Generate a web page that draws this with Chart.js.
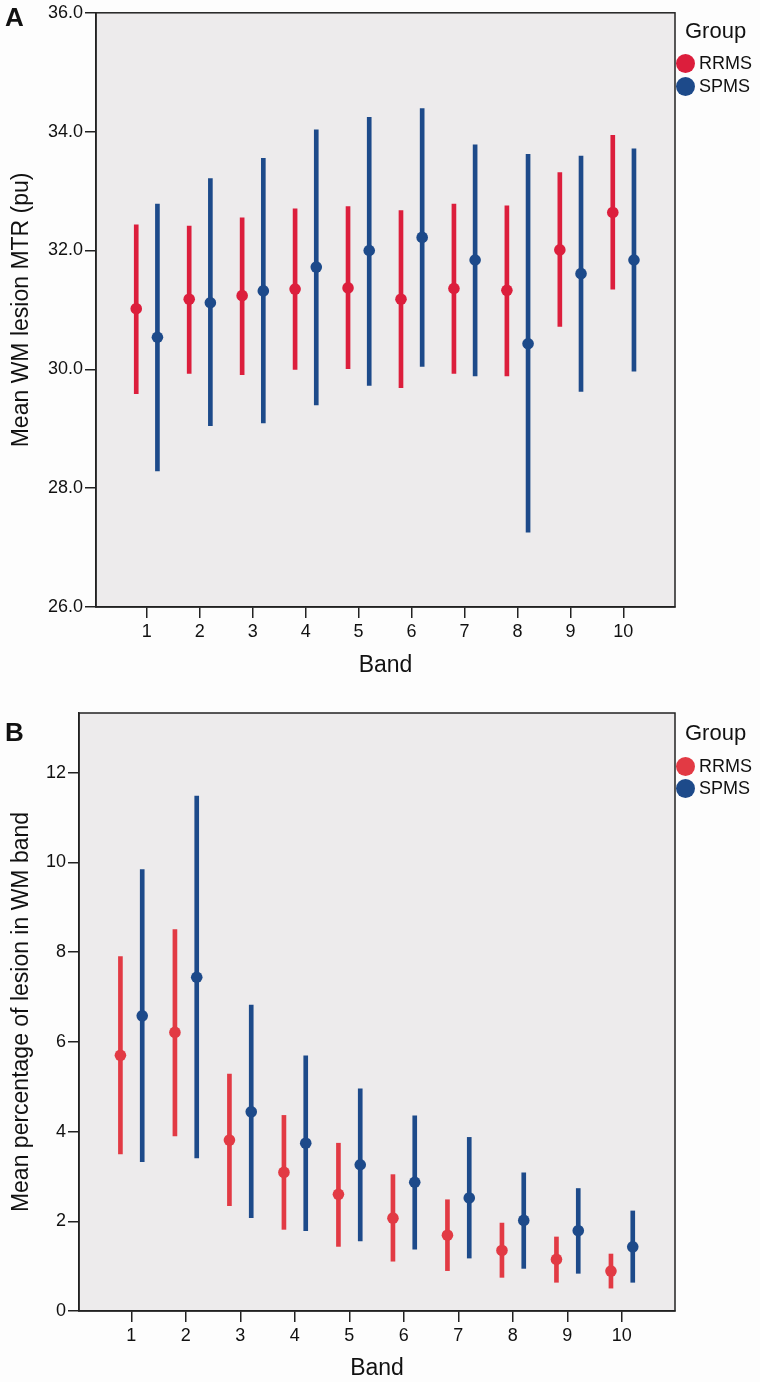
<!DOCTYPE html>
<html>
<head>
<meta charset="utf-8">
<script src="https://cdn.jsdelivr.net/npm/chart.js@4.4.1/dist/chart.umd.min.js"></script>
<style>
  html, body { margin: 0; padding: 0; background: #fdfdfd; overflow: hidden; }
  body { width: 760px; height: 1382px; position: relative; font-family: "Liberation Sans", Arial, sans-serif; color: #111; }
  canvas { position: absolute; left: 0; }
  .letter { position: absolute; left: 5px; font-weight: bold; font-size: 26px; line-height: 26px; }
  .group { position: absolute; left: 685px; font-size: 22px; line-height: 22px; }
  .row { position: absolute; left: 676px; display: flex; align-items: center; height: 22px; font-size: 18px; line-height: 18px; }
  .dot { width: 19px; height: 19px; border-radius: 50%; margin-right: 4px; }
</style>
</head>
<body>
<canvas id="mtrChart" width="760" height="690" style="top:0"></canvas>
<canvas id="pctChart" width="760" height="700" style="top:690px"></canvas>

<div class="letter" style="top:4px">A</div>
<div class="group" style="top:20px">Group</div>
<div class="row" style="top:52px"><span class="dot" style="background:#dc1e3c"></span>RRMS</div>
<div class="row" style="top:75px"><span class="dot" style="background:#1d4a8a"></span>SPMS</div>

<div class="letter" style="top:719px">B</div>
<div class="group" style="top:722px">Group</div>
<div class="row" style="top:755px"><span class="dot" style="background:#e23a44"></span>RRMS</div>
<div class="row" style="top:777px"><span class="dot" style="background:#1d4a8a"></span>SPMS</div>

<script>
const bands = [1, 2, 3, 4, 5, 6, 7, 8, 9, 10];
const groupShift = 0.2; // RRMS sits left of the band, SPMS right

// Panel A: mean WM lesion MTR (pu), with error bar ends
const mtrRrmsMean = [31.02, 31.18, 31.24, 31.35, 31.37, 31.18, 31.36, 31.33, 32.01, 32.64];
const mtrRrmsLow  = [29.59, 29.93, 29.91, 30.00, 30.01, 29.69, 29.93, 29.89, 30.72, 31.35];
const mtrRrmsHigh = [32.43, 32.41, 32.55, 32.70, 32.74, 32.67, 32.78, 32.75, 33.31, 33.94];
const mtrSpmsMean = [30.54, 31.12, 31.32, 31.72, 32.00, 32.22, 31.84, 30.43, 31.61, 31.84];
const mtrSpmsLow  = [28.29, 29.05, 29.10, 29.40, 29.73, 30.05, 29.89, 27.26, 29.63, 29.97];
const mtrSpmsHigh = [32.78, 33.21, 33.55, 34.03, 34.24, 34.39, 33.78, 33.62, 33.59, 33.71];
const mtrTicks = [26, 28, 30, 32, 34, 36];

// Panel B: mean percentage of lesion in WM band
const pctRrmsMean = [5.70, 6.21, 3.81, 3.09, 2.60, 2.07, 1.69, 1.35, 1.15, 0.89];
const pctRrmsLow  = [3.50, 3.90, 2.35, 1.82, 1.44, 1.11, 0.90, 0.75, 0.64, 0.51];
const pctRrmsHigh = [7.90, 8.50, 5.28, 4.36, 3.74, 3.04, 2.48, 1.96, 1.65, 1.27];
const pctSpmsMean = [6.58, 7.44, 4.44, 3.74, 3.26, 2.87, 2.52, 2.02, 1.79, 1.43];
const pctSpmsLow  = [3.33, 3.41, 2.08, 1.79, 1.56, 1.38, 1.18, 0.95, 0.84, 0.64];
const pctSpmsHigh = [9.84, 11.48, 6.82, 5.69, 4.95, 4.35, 3.87, 3.08, 2.73, 2.23];
const pctTicks = [0, 2, 4, 6, 8, 10, 12];

Chart.defaults.font.family = '"Liberation Sans", Arial, sans-serif';
Chart.defaults.color = '#111';

// grey plot area with a full black frame
const plotFrame = {
    id: 'plotFrame',
    beforeDraw(chart) {
        const { ctx, chartArea: a } = chart;
        ctx.save();
        ctx.fillStyle = '#edebec';
        ctx.fillRect(a.left, a.top, a.width, a.height);
        ctx.restore();
    },
    afterDraw(chart) {
        const { ctx, chartArea: a } = chart;
        ctx.save();
        ctx.strokeStyle = '#222';
        ctx.lineWidth = 1.5;
        ctx.strokeRect(a.left, a.top, a.width, a.height);
        ctx.restore();
    }
};

const points = (means, shift) => bands.map((b, i) => ({ x: b + shift, y: means[i] }));
const ranges = (low, high, shift) => bands.map((b, i) => ({ x: b + shift, y: [low[i], high[i]] }));

function drawPanel(id, p) {
    const tickLine = { drawOnChartArea: false, drawTicks: true, tickLength: 11, color: '#222', lineWidth: 1.5, offset: false };
    const axisLine = { display: true, color: '#222', width: 1.5 };
    new Chart(document.getElementById(id), {
        type: 'bar',
        data: {
            datasets: [
                { type: 'scatter', data: points(p.rrms[0], -groupShift), backgroundColor: p.red, borderWidth: 0, pointRadius: 5.8, order: 0 },
                { type: 'scatter', data: points(p.spms[0], groupShift), backgroundColor: p.blue, borderWidth: 0, pointRadius: 5.8, order: 0 },
                { type: 'bar', data: ranges(p.rrms[1], p.rrms[2], -groupShift), backgroundColor: p.red, barThickness: 4, grouped: false, order: 1 },
                { type: 'bar', data: ranges(p.spms[1], p.spms[2], groupShift), backgroundColor: p.blue, barThickness: 4, grouped: false, order: 1 }
            ]
        },
        options: {
            responsive: false,
            animation: false,
            devicePixelRatio: 1,
            events: [],
            layout: { padding: p.padding },
            plugins: { legend: { display: false }, tooltip: { enabled: false } },
            scales: {
                x: {
                    type: 'linear',
                    min: 0.04,
                    max: 10.975,
                    offset: false,
                    afterBuildTicks: s => { s.ticks = bands.map(v => ({ value: v })); },
                    afterFit: s => { s.height = p.xHeight; },
                    grid: tickLine,
                    border: axisLine,
                    ticks: { font: { size: 18 }, padding: 3, autoSkip: false, maxRotation: 0, callback: v => String(v) },
                    title: { display: true, text: 'Band', font: { size: 23 } }
                },
                y: {
                    type: 'linear',
                    min: p.yMin,
                    max: p.yMax,
                    afterBuildTicks: s => { s.ticks = p.yTicks.map(v => ({ value: v })); },
                    afterFit: s => { s.width = p.yWidth; },
                    grid: tickLine,
                    border: axisLine,
                    ticks: { font: { size: 18 }, padding: 2, callback: p.tickFormat },
                    title: { display: true, text: p.yTitle, font: { size: 23 } }
                }
            }
        },
        plugins: [plotFrame]
    });
}

drawPanel('mtrChart', {
    rrms: [mtrRrmsMean, mtrRrmsLow, mtrRrmsHigh],
    spms: [mtrSpmsMean, mtrSpmsLow, mtrSpmsHigh],
    red: '#dc1e3c',
    blue: '#1d4a8a',
    yMin: 26,
    yMax: 36,
    yTicks: mtrTicks,
    tickFormat: v => v.toFixed(1),
    yTitle: 'Mean WM lesion MTR (pu)',
    padding: { left: 4, top: 10, right: 85, bottom: 7 },
    yWidth: 92,
    xHeight: 76
});

drawPanel('pctChart', {
    rrms: [pctRrmsMean, pctRrmsLow, pctRrmsHigh],
    spms: [pctSpmsMean, pctSpmsLow, pctSpmsHigh],
    red: '#e23a44',
    blue: '#1d4a8a',
    yMin: 0,
    yMax: 13.33,
    yTicks: pctTicks,
    tickFormat: v => String(v),
    yTitle: 'Mean percentage of lesion in WM band',
    padding: { left: 4, top: 23, right: 85, bottom: 4 },
    yWidth: 75,
    xHeight: 75
});
</script>
</body>
</html>
